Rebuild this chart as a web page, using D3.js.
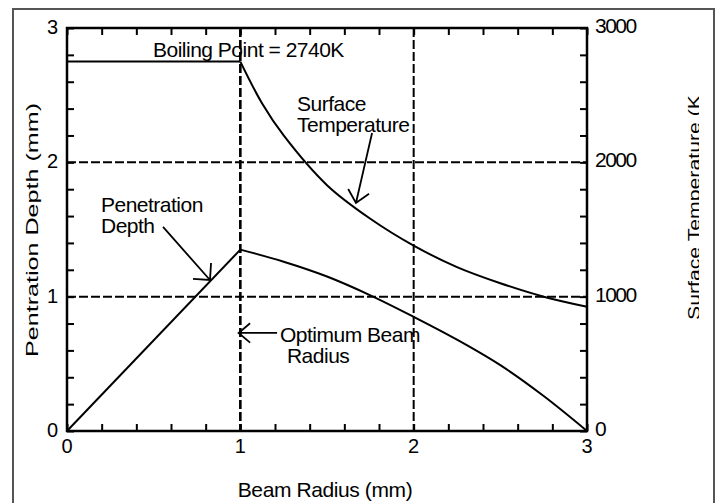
<!DOCTYPE html>
<html lang="en">
<head>
<meta charset="UTF-8">
<title>Penetration depth and surface temperature vs beam radius</title>
<script src="https://d3js.org/d3.v7.min.js"></script>
<style>
    body{margin:0;background:#fff;}
    svg{display:block;}
    text{font-family:"Liberation Sans",Arial,sans-serif;fill:#000;}
</style>
</head>
<body>
<svg width="719" height="503"></svg>
<script>
    // values
    const radius_pen = [0, 1, 1.25, 1.5, 1.75, 2, 2.25, 2.5, 2.75, 3];
    const depth_mm   = [0, 1.35, 1.26, 1.15, 1.01, 0.85, 0.68, 0.49, 0.26, 0];

    const radius_temp = [0, 1, 1.125, 1.25, 1.5, 1.75, 2, 2.25, 2.5, 2.75, 3];
    const temp_K      = [2750, 2750, 2440, 2200, 1830, 1580, 1380, 1220, 1100, 1000, 925];

    const xTicks = [0, 1, 2, 3];
    const yLeftTicks = [0, 1, 2, 3];
    const yRightTicks = [0, 1000, 2000, 3000];
    const gridX = [1, 2];
    const gridY = [1, 2];

    const svg = d3.select("svg")
    const pLeft = 67, pRight = 587, pTop = 28, pBottom = 431

    // outer frame
    svg.append("rect").attr("x",13).attr("y",9).attr("width",701).attr("height",520)
        .attr("fill","none").attr("stroke","#555").attr("stroke-width",2)

    const x = d3.scaleLinear().domain([0,3]).range([pLeft,pRight])
    const yL = d3.scaleLinear().domain([0,3]).range([pBottom,pTop])
    const yR = d3.scaleLinear().domain([0,3000]).range([pBottom,pTop])

    // dashed grid
    const grid = svg.append("g").attr("stroke","#000").attr("stroke-width",2).attr("stroke-dasharray","9,3")
    gridX.forEach(v=>{
        grid.append("line").attr("x1",x(v)).attr("x2",x(v)).attr("y1",pTop).attr("y2",pBottom)
            .attr("stroke-width",v===1?2.6:2)
    })
    gridY.forEach(v=>{
        grid.append("line").attr("x1",pLeft).attr("x2",pRight).attr("y1",yL(v)).attr("y2",yL(v))
    })

    // axes: ticks pointing inward on every side
    const minor = d3.range(0,3.001,0.2)
    const tickLen = 7
    svg.append("g").attr("transform",`translate(0,${pBottom})`)
        .call(d3.axisTop(x).tickValues(minor).tickSize(tickLen).tickFormat(""))
    svg.append("g").attr("transform",`translate(0,${pTop})`)
        .call(d3.axisBottom(x).tickValues(minor).tickSize(tickLen).tickFormat(""))
    svg.append("g").attr("transform",`translate(${pLeft},0)`)
        .call(d3.axisRight(yL).tickValues(minor).tickSize(tickLen).tickFormat(""))
    svg.append("g").attr("transform",`translate(${pRight},0)`)
        .call(d3.axisLeft(yR).tickValues(minor.map(d=>d*1000)).tickSize(tickLen).tickFormat(""))
    svg.selectAll(".domain").remove()
    svg.selectAll(".tick line").attr("stroke","#000").attr("stroke-width",2)

    svg.append("rect").attr("x",pLeft).attr("y",pTop).attr("width",pRight-pLeft).attr("height",pBottom-pTop)
        .attr("fill","none").attr("stroke","#000").attr("stroke-width",2.5)

    // tick labels
    svg.append("g").selectAll("text").data(xTicks).enter().append("text")
        .attr("x",d=>x(d)).attr("y",pBottom+22).attr("text-anchor","middle")
        .attr("font-size",20).text(d=>d)
    svg.append("g").selectAll("text").data(yLeftTicks).enter().append("text")
        .attr("x",pLeft-9).attr("y",d=>yL(d)+6).attr("text-anchor","end")
        .attr("font-size",20).text(d=>d)
    svg.append("g").selectAll("text").data(yRightTicks).enter().append("text")
        .attr("x",pRight+8).attr("y",d=>yR(d)+5).attr("text-anchor","start")
        .attr("font-size",21).attr("letter-spacing",-1.5).text(d=>d)

    // axis titles
    svg.append("text").attr("x",325).attr("y",497).attr("text-anchor","middle")
        .attr("font-size",21).attr("letter-spacing",-0.4).text("Beam Radius (mm)")
    svg.append("text").attr("transform","translate(38,357) rotate(-90)")
        .attr("font-size",17).attr("textLength",254).attr("lengthAdjust","spacingAndGlyphs")
        .text("Pentration Depth (mm)")

    svg.append("clipPath").attr("id","rclip").append("rect")
        .attr("x",670).attr("y",96).attr("width",29).attr("height",300)
    svg.append("g").attr("clip-path","url(#rclip)")
        .append("text")
        .attr("transform","translate(700,320) rotate(-90)")
        .attr("font-size",17).attr("textLength",232).attr("lengthAdjust","spacingAndGlyphs")
        .text("Surface Temperature (K)")

    // curves
    const pen = radius_pen.map((r,i)=>[r, depth_mm[i]])
    const temp = radius_temp.map((r,i)=>[r, temp_K[i]])
    const lineL = d3.line().x(d=>x(d[0])).y(d=>yL(d[1]))
    const lineR = d3.line().x(d=>x(d[0])).y(d=>yR(d[1]))
    const curves = svg.append("g").attr("fill","none").attr("stroke","#000").attr("stroke-width",2)
    curves.append("path").attr("d",lineL(pen.filter(d=>d[0]<=1)))
    curves.append("path").attr("d",lineL.curve(d3.curveCatmullRom)(pen.filter(d=>d[0]>=1)))
    curves.append("path").attr("d",lineR(temp.filter(d=>d[0]<=1)))
    curves.append("path").attr("d",lineR.curve(d3.curveCatmullRom)(temp.filter(d=>d[0]>=1)))

    // annotations (data units of the left axis)
    const labels = [
        {x:0.496, y:2.784, lines:["Boiling Point = 2740K"]},
        {x:1.327, y:2.382, lines:["Surface","Temperature"]},
        {x:0.196, y:1.630, lines:["Penetration","Depth"]},
        {x:1.229, y:0.663, lines:["Optimum Beam"]},
        {x:1.269, y:0.506, lines:["Radius"]}
    ]
    labels.forEach(l=>{
        const t = svg.append("text").attr("x",x(l.x)).attr("y",yL(l.y))
            .attr("font-size",21).attr("letter-spacing",-0.5)
        l.lines.forEach((s,i)=>{
            t.append("tspan").attr("x",x(l.x)).attr("dy",i===0?0:21).text(s)
        })
    })

    const arrows = [
        {from:[1.760,2.218], to:[1.667,1.697], len:16, ang:42},
        {from:[0.554,1.519], to:[0.825,1.124], len:17, ang:45},
        {from:[1.212,0.730], to:[0.990,0.730], len:15, ang:40}
    ]
    const arrowG = svg.append("g").attr("fill","none").attr("stroke","#000").attr("stroke-width",1.8)
    arrows.forEach(a=>{
        const x0 = x(a.from[0]), y0 = yL(a.from[1]), x1 = x(a.to[0]), y1 = yL(a.to[1])
        const dir = Math.atan2(y0-y1, x0-x1)
        const w = [dir - a.ang*Math.PI/180, dir + a.ang*Math.PI/180]
            .map(t=>[x1 + a.len*Math.cos(t), y1 + a.len*Math.sin(t)])
        arrowG.append("path").attr("d",`M${x0},${y0}L${x1},${y1}M${w[0][0]},${w[0][1]}L${x1},${y1}L${w[1][0]},${w[1][1]}`)
    })
</script>
</body>
</html>
